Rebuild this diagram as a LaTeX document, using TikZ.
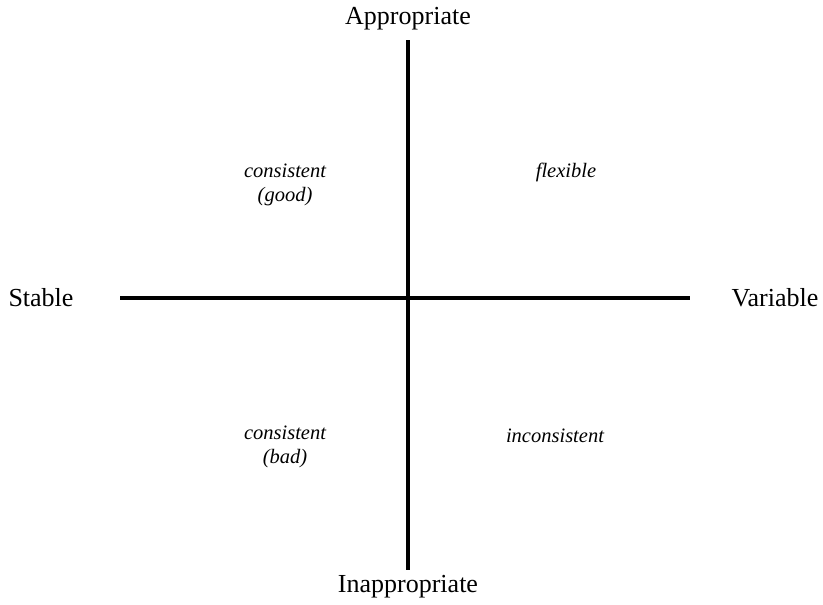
\documentclass[tikz,border=0pt]{standalone}
\usepackage{fontspec}
\setmainfont{Liberation Serif}
\begin{document}
\begin{tikzpicture}[x=1pt,y=-1pt,
  axis/.style={line width=3.6pt},
  axlabel/.style={font=\fontsize{26}{30}\selectfont, inner sep=0pt},
  quad/.style={font=\fontsize{20.5}{24}\selectfont\itshape, align=center, inner sep=0pt}]
\useasboundingbox (0,0) rectangle (823,605);
\coordinate (top) at (408,40);
\coordinate (bot) at (408,570);
\coordinate (left) at (120,298);
\coordinate (right) at (690,298);
\draw[axis] (top) -- (bot);
\draw[axis] (left) -- (right);
\node[axlabel] (app) at (408,19) {Appropriate};
\node[axlabel] (inapp) at (408,587) {Inappropriate};
\node[axlabel] (stable) at (41,298) {Stable};
\node[axlabel] (var) at (775,298) {Variable};
\node[quad] (cg) at (285,185) {consistent\\(good)};
\node[quad] (fl) at (566,172) {flexible};
\node[quad] (cb) at (285,447) {consistent\\(bad)};
\node[quad] (inc) at (555,436) {inconsistent};
\end{tikzpicture}
\end{document}
